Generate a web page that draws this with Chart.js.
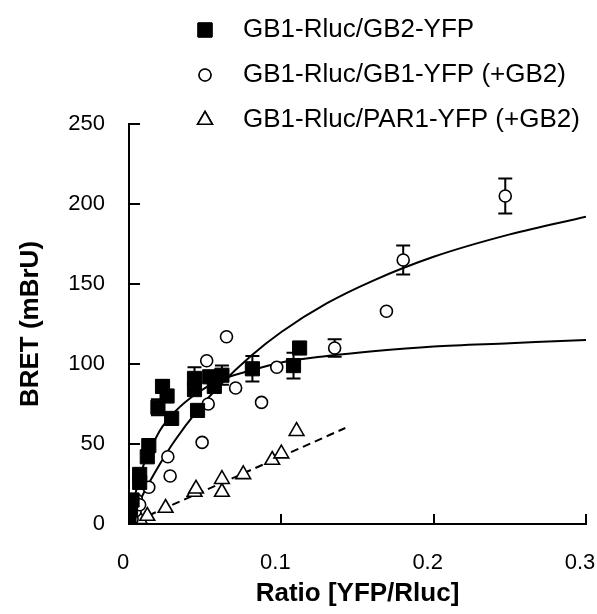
<!DOCTYPE html>
<html>
<head>
<meta charset="utf-8">
<script src="https://cdn.jsdelivr.net/npm/chart.js@4"></script>
<style>
  html, body { margin: 0; padding: 0; background: #fff; }
  #wrap { width: 597px; height: 614px; position: relative; }
</style>
</head>
<body>
<div id="wrap"><canvas id="bret"></canvas></div>
<script>
// series labels
const seriesNames = ['GB1-Rluc/GB2-YFP', 'GB1-Rluc/GB1-YFP (+GB2)', 'GB1-Rluc/PAR1-YFP (+GB2)'];

// GB1-Rluc/GB2-YFP (filled squares)
const gb2X = [0, 0.001, 0.002, 0.007, 0.007, 0.012, 0.013, 0.019, 0.022, 0.025, 0.028, 0.043, 0.043, 0.045, 0.053, 0.056, 0.061, 0.081, 0.108, 0.112];
const gb2Y = [2, 9, 15, 26, 31, 42, 49, 73, 86, 80, 66, 91, 84, 71, 92, 86, 93, 97, 99, 110];
const gb2Err = [null, null, null, null, null, null, null, 5, 4, null, null, 7, null, null, null, null, 6, 8, 8, null];

// GB1-Rluc/GB1-YFP (+GB2) (open circles)
const gb1X = [0.002, 0.004, 0.005, 0.007, 0.013, 0.0255, 0.027, 0.048, 0.051, 0.052, 0.064, 0.07, 0.087, 0.097, 0.135, 0.169, 0.18, 0.247];
const gb1Y = [3, 8, 15, 12, 23, 42, 30, 51, 102, 75, 117, 85, 76, 98, 110, 133, 165, 205];
const gb1Err = [null, null, null, null, null, null, null, null, null, null, null, null, null, null, 5.5, null, 9, 11];

// GB1-Rluc/PAR1-YFP (+GB2) (open triangles)
const par1X = [0.001, 0.003, 0.007, 0.012, 0.024, 0.043, 0.044, 0.061, 0.061, 0.075, 0.094, 0.1, 0.11];
const par1Y = [1, 2, 3, 5, 10, 20, 22, 20, 28, 31, 40, 44, 58];

// fitted curves
const gb2FitX = [0, 0.005, 0.01, 0.02, 0.03, 0.045, 0.06, 0.08, 0.1, 0.13, 0.16, 0.2, 0.25, 0.3];
const gb2FitY = [0, 22, 38, 58, 70, 82, 90, 96, 101, 105, 108, 111, 113, 115];
const gb1FitX = [0, 0.01, 0.02, 0.03, 0.045, 0.06, 0.08, 0.1, 0.13, 0.16, 0.2, 0.25, 0.3];
const gb1FitY = [0, 20, 37, 52, 71, 87, 105, 120, 138, 152, 167, 181, 192];
const par1FitX = [0.005, 0.142];
const par1FitY = [2, 60];

// axis ticks
const xTicks = [0, 0.1, 0.2, 0.3];
const yTicks = [0, 50, 100, 150, 200, 250];

const FONT = '"Liberation Sans", Arial, sans-serif';

function toPoints(xs, ys) {
    return xs.map((x, i) => ({ x: x, y: ys[i] }));
}

// error bars, drawn under the markers
const errorBars = {
    id: 'errorBars',
    beforeDatasetsDraw(chart) {
        const ctx = chart.ctx;
        const xs = chart.scales.x;
        const ys = chart.scales.y;
        const sets = [[gb2X, gb2Y, gb2Err], [gb1X, gb1Y, gb1Err]];
        ctx.save();
        ctx.strokeStyle = '#000';
        ctx.lineWidth = 2;
        sets.forEach(([px, py, pe]) => {
            pe.forEach((e, i) => {
                if (e === null) return;
                const x = xs.getPixelForValue(px[i]);
                const yTop = ys.getPixelForValue(py[i] + e);
                const yBot = ys.getPixelForValue(py[i] - e);
                ctx.beginPath();
                ctx.moveTo(x, yTop);
                ctx.lineTo(x, yBot);
                ctx.moveTo(x - 7, yTop);
                ctx.lineTo(x + 7, yTop);
                ctx.moveTo(x - 7, yBot);
                ctx.lineTo(x + 7, yBot);
                ctx.stroke();
            });
        });
        ctx.restore();
    },
};

// tick marks pointing into the plot
const innerTicks = {
    id: 'innerTicks',
    afterDraw(chart) {
        const ctx = chart.ctx;
        const xs = chart.scales.x;
        const ys = chart.scales.y;
        const area = chart.chartArea;
        ctx.save();
        ctx.strokeStyle = '#000';
        ctx.lineWidth = 2;
        ctx.beginPath();
        xTicks.forEach(v => {
            if (v === 0) return;
            const x = Math.round(xs.getPixelForValue(v));
            ctx.moveTo(x, area.bottom);
            ctx.lineTo(x, area.bottom - 10);
        });
        yTicks.forEach(v => {
            if (v === 0) return;
            const y = Math.round(ys.getPixelForValue(v));
            ctx.moveTo(area.left, y);
            ctx.lineTo(area.left + 11, y);
        });
        ctx.stroke();
        ctx.restore();
    },
};

// legend as a vertical list above the plot
const stackedLegend = {
    id: 'stackedLegend',
    afterDraw(chart) {
        const ctx = chart.ctx;
        const rows = [30, 75, 120];
        ctx.save();
        ctx.font = '26px ' + FONT;
        ctx.textBaseline = 'middle';
        ctx.fillStyle = '#000';
        for (let i = 0; i < 3; i++) {
            const ds = chart.data.datasets[i];
            Chart.helpers.drawPoint(ctx, {
                pointStyle: ds.pointStyle,
                radius: ds.pointRadius,
                borderWidth: ds.borderWidth,
                rotation: 0,
            }, 205, rows[i]);
            ctx.fillStyle = ds.pointBackgroundColor;
            ctx.strokeStyle = '#000';
            ctx.lineWidth = ds.borderWidth;
            ctx.fill();
            ctx.stroke();
            ctx.fillStyle = '#000';
            ctx.fillText(ds.label, 243, rows[i]);
        }
        ctx.restore();
    },
};

const bretChart = new Chart(document.getElementById('bret').getContext('2d'), {
    type: 'scatter',
    data: {
        datasets: [
            {
                label: seriesNames[0],
                data: toPoints(gb2X, gb2Y),
                pointStyle: 'rect',
                pointRadius: 10,
                pointBackgroundColor: '#000',
                pointBorderColor: '#000',
                borderWidth: 1,
                order: 1,
            },
            {
                label: seriesNames[1],
                data: toPoints(gb1X, gb1Y),
                pointStyle: 'circle',
                pointRadius: 6,
                pointBackgroundColor: '#fff',
                pointBorderColor: '#000',
                borderWidth: 1.6,
                order: 2,
            },
            {
                label: seriesNames[2],
                data: toPoints(par1X, par1Y),
                pointStyle: 'triangle',
                pointRadius: 8.5,
                pointBackgroundColor: '#fff',
                pointBorderColor: '#000',
                borderWidth: 1.6,
                order: 3,
            },
            {
                label: 'fit GB2',
                data: toPoints(gb2FitX, gb2FitY),
                showLine: true,
                pointRadius: 0,
                borderColor: '#000',
                borderWidth: 2,
                cubicInterpolationMode: 'monotone',
                order: 5,
            },
            {
                label: 'fit GB1',
                data: toPoints(gb1FitX, gb1FitY),
                showLine: true,
                pointRadius: 0,
                borderColor: '#000',
                borderWidth: 2,
                cubicInterpolationMode: 'monotone',
                order: 5,
            },
            {
                label: 'fit PAR1',
                data: toPoints(par1FitX, par1FitY),
                showLine: true,
                pointRadius: 0,
                borderColor: '#000',
                borderWidth: 2,
                borderDash: [8, 5],
                order: 5,
            },
        ],
    },
    options: {
        responsive: true,
        maintainAspectRatio: false,
        animation: false,
        events: [],
        layout: {
            padding: { top: 124, right: 9, left: 0, bottom: 0 },
        },
        plugins: {
            legend: { display: false },
            tooltip: { enabled: false },
        },
        scales: {
            x: {
                type: 'linear',
                min: 0,
                max: 0.3,
                afterBuildTicks: (scale) => {
                    scale.ticks = xTicks.map(v => ({ value: v }));
                },
                afterFit: (scale) => {
                    scale.height = 90;
                    scale.paddingLeft = 0;
                    scale.paddingRight = 0;
                },
                grid: { display: false, drawTicks: false },
                border: { display: true, color: '#000', width: 2 },
                ticks: {
                    color: '#000',
                    padding: 26,
                    maxRotation: 0,
                    labelOffset: -6,
                    font: { family: FONT, size: 22 },
                    callback: (v) => String(v),
                },
                title: {
                    display: true,
                    text: 'Ratio [YFP/Rluc]',
                    color: '#000',
                    font: { family: FONT, size: 26, weight: 'bold' },
                    padding: { top: 0, bottom: 5 },
                },
            },
            y: {
                type: 'linear',
                min: 0,
                max: 250,
                afterBuildTicks: (scale) => {
                    scale.ticks = yTicks.map(v => ({ value: v }));
                },
                afterFit: (scale) => {
                    scale.width = 129;
                    scale.paddingTop = 0;
                    scale.paddingBottom = 0;
                },
                grid: { display: false, drawTicks: false },
                border: { display: true, color: '#000', width: 2 },
                ticks: {
                    color: '#000',
                    padding: 24,
                    font: { family: FONT, size: 22 },
                },
                title: {
                    display: true,
                    text: 'BRET (mBrU)',
                    color: '#000',
                    font: { family: FONT, size: 26, weight: 'bold' },
                    padding: { top: 15, bottom: 0 },
                },
            },
        },
    },
    plugins: [errorBars, innerTicks, stackedLegend],
});
</script>
</body>
</html>
